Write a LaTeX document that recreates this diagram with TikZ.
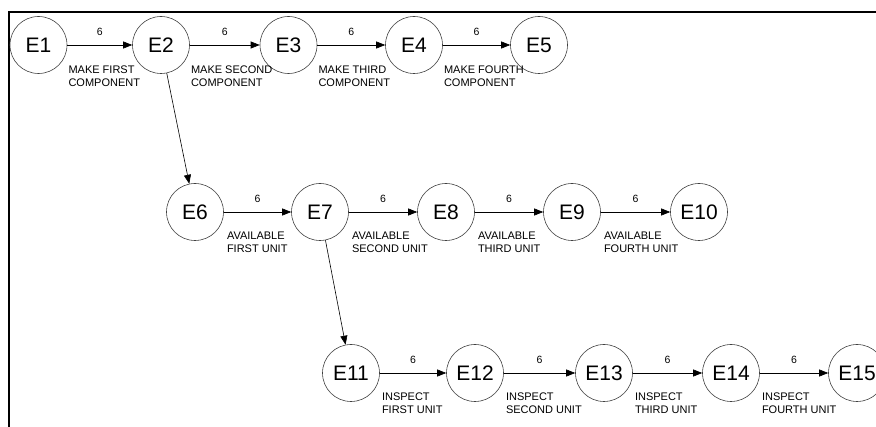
\documentclass[tikz,border=0pt]{standalone}
\usepackage{fontspec}
\setmainfont{Liberation Sans}
\usetikzlibrary{arrows.meta}

\tikzset{
  event/.style={circle, draw=black!75, line width=0.6pt, minimum size=57pt, inner sep=0pt,
    font=\fontsize{21}{21}\selectfont},
  act/.style={-{Triangle[length=9pt,width=7pt]}, line width=0.6pt},
  dur/.style={midway, above=6pt, font=\fontsize{10.5}{12}\selectfont},
  actlbl/.style={anchor=north west, align=left, inner sep=0pt,
    font=\fontsize{11}{13}\selectfont},
}

\begin{document}
\begin{tikzpicture}[x=1pt, y=-1pt]
			%%%%% FRAME %%%%%
			\useasboundingbox (0,0) rectangle (876,427);
			\draw[line width=2pt] (876,12) -- (9,12) -- (9,427);
			
			%%%%% EVENTS %%%%%
			\node[event] (E1) at (38.5,45) {E1};
			\node[event] (E2) at (161,45) {E2};
			\node[event] (E3) at (288.5,45) {E3};
			\node[event] (E4) at (414,45) {E4};
			\node[event] (E5) at (539,45) {E5};
			
			\node[event] (E6) at (195,212) {E6};
			\node[event] (E7) at (320,212) {E7};
			\node[event] (E8) at (446,212) {E8};
			\node[event] (E9) at (572,212) {E9};
			\node[event] (E10) at (699,212) {E10};
			
			\node[event] (E11) at (351,373) {E11};
			\node[event] (E12) at (475,373) {E12};
			\node[event] (E13) at (604,373) {E13};
			\node[event] (E14) at (731,373) {E14};
			\node[event] (E15) at (857,373) {E15};
			
			%%%%% ACTIVITIES %%%%%
			\draw[act] (E1) -- node[dur] {6} (E2);
			\draw[act] (E2) -- node[dur] {6} (E3);
			\draw[act] (E3) -- node[dur] {6} (E4);
			\draw[act] (E4) -- node[dur] {6} (E5);
			\draw[act] (E2) -- (E6);
			
			\draw[act] (E6) -- node[dur] {6} (E7);
			\draw[act] (E7) -- node[dur] {6} (E8);
			\draw[act] (E8) -- node[dur] {6} (E9);
			\draw[act] (E9) -- node[dur] {6} (E10);
			\draw[act] (E7) -- (E11);
			
			\draw[act] (E11) -- node[dur] {6} (E12);
			\draw[act] (E12) -- node[dur] {6} (E13);
			\draw[act] (E13) -- node[dur] {6} (E14);
			\draw[act] (E14) -- node[dur] {6} (E15);
			
			%%%%% LABELS %%%%%
			\node[actlbl] (L1) at ([xshift=1pt,yshift=-21pt]E1.east) {MAKE FIRST\\COMPONENT};
			\node[actlbl] (L2) at ([xshift=1pt,yshift=-21pt]E2.east) {MAKE SECOND\\COMPONENT};
			\node[actlbl] (L3) at ([xshift=1pt,yshift=-21pt]E3.east) {MAKE THIRD\\COMPONENT};
			\node[actlbl] (L4) at ([xshift=1pt,yshift=-21pt]E4.east) {MAKE FOURTH\\COMPONENT};
			
			\node[actlbl] (L6) at ([xshift=3pt,yshift=-20pt]E6.east) {AVAILABLE\\FIRST UNIT};
			\node[actlbl] (L7) at ([xshift=3pt,yshift=-20pt]E7.east) {AVAILABLE\\SECOND UNIT};
			\node[actlbl] (L8) at ([xshift=3pt,yshift=-20pt]E8.east) {AVAILABLE\\THIRD UNIT};
			\node[actlbl] (L9) at ([xshift=3pt,yshift=-20pt]E9.east) {AVAILABLE\\FOURTH UNIT};
			
			\node[actlbl] (L11) at ([xshift=2pt,yshift=-20pt]E11.east) {INSPECT\\FIRST UNIT};
			\node[actlbl] (L12) at ([xshift=2pt,yshift=-20pt]E12.east) {INSPECT\\SECOND UNIT};
			\node[actlbl] (L13) at ([xshift=2pt,yshift=-20pt]E13.east) {INSPECT\\THIRD UNIT};
			\node[actlbl] (L14) at ([xshift=2pt,yshift=-20pt]E14.east) {INSPECT\\FOURTH UNIT};
			
			%%%%% END %%%%%
\end{tikzpicture}
\end{document}
